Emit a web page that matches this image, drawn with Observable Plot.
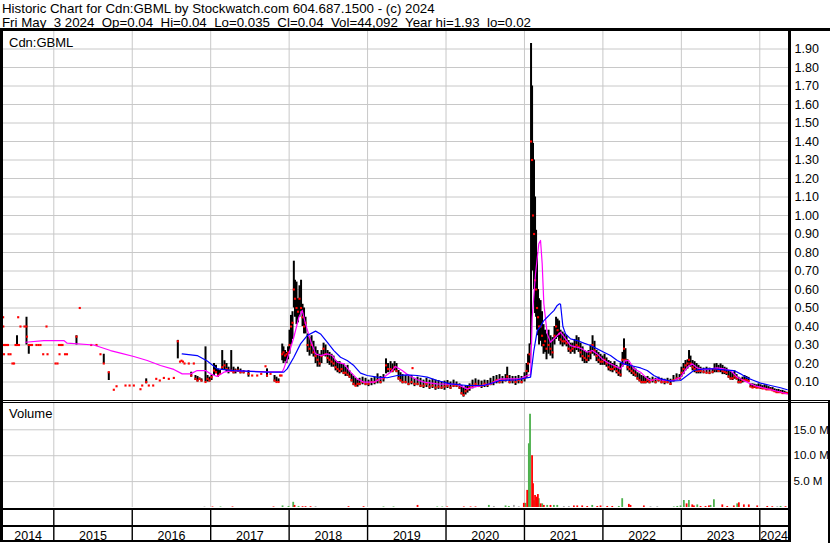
<!DOCTYPE html>
<html><head><meta charset="utf-8">
<script src="https://cdn.jsdelivr.net/npm/d3@7"></script>
<script src="https://cdn.jsdelivr.net/npm/@observablehq/plot@0.6"></script>
<style>
body{margin:0;background:#fff;}
#c{position:relative;width:830px;height:543px;overflow:hidden;background:#fff;color:#000;font-family:"Liberation Sans",Arial,sans-serif;}
#c svg{position:absolute;left:0;}
.t{position:absolute;white-space:pre;line-height:14px;}
.b{position:absolute;background:#000;}
</style></head><body><div id="c"></div>
<script>
// ---------- header texts ----------
const headerLine1 = "Historic Chart for Cdn:GBML by Stockwatch.com 604.687.1500 - (c) 2024";
const headerLine2 = "Fri May  3 2024  Op=0.04  Hi=0.04  Lo=0.035  Cl=0.04  Vol=44,092  Year hi=1.93  lo=0.02";
const priceLabel = "Cdn:GBML";
const volumeLabel = "Volume";

// ---------- axis ticks ----------
const years = [2014,2015,2016,2017,2018,2019,2020,2021,2022,2023,2024];
const priceTicks = [0.1,0.2,0.3,0.4,0.5,0.6,0.7,0.8,0.9,1.0,1.1,1.2,1.3,1.4,1.5,1.6,1.7,1.8,1.9];
const volTicks = [5,10,15]; // millions

// ---------- daily bars (decimal year, high, low, close) ----------
const barDates = [
2014.354,2014.356,2014.361,2014.365,2014.378,2014.397,2014.416,2014.423,2014.448,2014.473,
2014.493,2014.512,2014.531,2014.546,2014.556,2014.575,2014.626,2014.652,2014.658,2014.681,
2014.703,2014.722,2014.779,2014.805,2014.830,2014.865,2014.907,2014.920,2015.022,2015.047,
2015.066,2015.073,2015.092,2015.111,2015.143,2015.168,2015.289,2015.331,2015.477,2015.544,
2015.595,2015.637,2015.701,2015.765,2015.800,2015.914,2015.966,2016.020,2016.105,2016.127,
2016.178,2016.211,2016.267,2016.306,2016.351,2016.403,2016.466,2016.530,2016.581,2016.609,
2016.628,2016.647,2016.666,2016.721,2016.752,2016.785,2016.806,2016.832,2016.857,2016.883,
2016.934,2016.960,2016.985,2017.011,2017.042,2017.068,2017.093,2017.119,2017.147,2017.176,
2017.202,2017.227,2017.262,2017.291,2017.316,2017.348,2017.380,2017.419,2017.482,2017.529,
2017.593,2017.644,2017.699,2017.718,2017.763,2017.814,2017.839,2017.865,2017.884,2017.903,
2017.912,2017.928,2017.948,2017.967,2017.986,2018.005,2018.024,2018.043,2018.060,2018.075,
2018.094,2018.113,2018.132,2018.152,2018.171,2018.190,2018.209,2018.235,2018.260,2018.286,
2018.311,2018.337,2018.362,2018.388,2018.413,2018.439,2018.464,2018.490,2018.515,2018.541,
2018.566,2018.592,2018.617,2018.643,2018.668,2018.694,2018.719,2018.745,2018.770,2018.796,
2018.821,2018.847,2018.872,2018.898,2018.936,2018.974,2019.012,2019.050,2019.089,2019.127,
2019.165,2019.203,2019.235,2019.261,2019.293,2019.318,2019.344,2019.369,2019.395,2019.420,
2019.446,2019.484,2019.522,2019.560,2019.573,2019.598,2019.637,2019.675,2019.713,2019.751,
2019.790,2019.828,2019.866,2019.904,2019.943,2019.981,2020.019,2020.057,2020.096,2020.134,
2020.172,2020.198,2020.223,2020.249,2020.274,2020.300,2020.338,2020.376,2020.414,2020.453,
2020.491,2020.529,2020.567,2020.605,2020.644,2020.682,2020.720,2020.759,2020.780,2020.810,
2020.848,2020.886,2020.924,2020.963,2021.001,2021.027,2021.046,2021.065,2021.084,2021.097,
2021.109,2021.122,2021.135,2021.148,2021.160,2021.173,2021.186,2021.205,2021.224,2021.243,
2021.262,2021.281,2021.307,2021.332,2021.358,2021.383,2021.403,2021.422,2021.441,2021.460,
2021.486,2021.511,2021.537,2021.562,2021.588,2021.613,2021.639,2021.664,2021.690,2021.715,
2021.741,2021.766,2021.792,2021.817,2021.842,2021.868,2021.893,2021.919,2021.944,2021.970,
2021.995,2022.021,2022.046,2022.072,2022.097,2022.123,2022.148,2022.174,2022.199,2022.225,
2022.250,2022.269,2022.288,2022.314,2022.339,2022.365,2022.390,2022.416,2022.441,2022.467,
2022.492,2022.518,2022.543,2022.569,2022.594,2022.633,2022.671,2022.709,2022.747,2022.786,
2022.824,2022.862,2022.900,2022.939,2022.977,2023.002,2023.028,2023.053,2023.079,2023.098,
2023.117,2023.143,2023.168,2023.194,2023.219,2023.245,2023.283,2023.321,2023.359,2023.398,
2023.423,2023.449,2023.474,2023.500,2023.525,2023.551,2023.576,2023.602,2023.627,2023.653,
2023.678,2023.704,2023.729,2023.755,2023.780,2023.806,2023.831,2023.857,2023.882,2023.908,
2023.933,2023.959,2023.984,2024.010,2024.035,2024.061,2024.086,2024.112,2024.137,2024.163,
2024.188,2024.214,2024.239,2024.265,2024.290,2024.316,2024.341,2024.360];
const barHigh = [
.45,.40,.30,.25,.30,.30,.30,.25,.25,.20,
.20,.30,.35,.45,.30,.40,.40,.45,.345,.30,
.30,.30,.30,.30,.30,.25,.40,.25,.20,.20,
.30,.25,.30,.30,.25,.25,.35,.50,.30,.30,
.25,.25,.153,.058,.077,.081,.081,.081,.061,.081,
.117,.081,.081,.117,.108,.122,.117,.122,.325,.21,
.215,.21,.20,.20,.153,.20,.135,.13,.122,.117,
.29,.135,.126,.135,.20,.19,.17,.162,.27,.215,
.20,.18,.27,.18,.17,.18,.17,.162,.162,.135,
.135,.144,.185,.171,.144,.135,.126,.117,.135,.135,
.305,.29,.27,.26,.29,.38,.46,.48,.753,.65,
.64,.55,.62,.65,.52,.50,.45,.36,.34,.35,
.32,.29,.27,.25,.27,.31,.30,.27,.26,.25,
.24,.216,.21,.21,.20,.198,.18,.19,.16,.144,
.13,.12,.11,.12,.126,.12,.11,.12,.126,.144,
.13,.14,.225,.20,.21,.198,.21,.20,.162,.15,
.14,.135,.13,.135,.175,.12,.126,.12,.11,.12,
.11,.115,.11,.108,.10,.105,.108,.10,.11,.10,
.09,.081,.07,.08,.08,.09,.11,.117,.11,.105,
.11,.108,.12,.13,.135,.14,.13,.14,.18,.135,
.13,.13,.135,.13,.15,.20,.25,.306,1.93,1.70,
1.39,1.30,1.10,.92,.80,.60,.55,.54,.48,.41,
.38,.36,.38,.35,.34,.40,.45,.44,.43,.38,
.37,.36,.35,.324,.31,.31,.33,.35,.34,.31,
.29,.27,.26,.27,.30,.35,.32,.27,.26,.25,
.24,.25,.23,.216,.21,.20,.21,.19,.18,.20,
.26,.333,.28,.22,.20,.19,.18,.17,.15,.144,
.135,.13,.126,.13,.12,.126,.12,.126,.12,.115,
.12,.115,.135,.144,.14,.18,.20,.216,.22,.27,
.24,.216,.21,.20,.19,.18,.175,.18,.175,.17,
.198,.20,.19,.198,.19,.18,.175,.162,.155,.15,
.16,.14,.126,.12,.126,.135,.13,.125,.09,.09,
.088,.085,.09,.085,.08,.085,.08,.075,.07,.07,
.063,.06,.06,.055,.055,.05,.045,.04];
const barLow = [
.45,.40,.30,.25,.30,.30,.30,.25,.25,.20,
.20,.30,.30,.45,.30,.40,.40,.30,.345,.25,
.30,.30,.30,.30,.30,.25,.40,.25,.20,.20,
.30,.25,.30,.30,.25,.25,.30,.50,.30,.30,
.25,.20,.108,.058,.077,.081,.081,.081,.061,.081,
.09,.081,.081,.117,.108,.122,.117,.122,.225,.21,
.215,.21,.20,.20,.126,.20,.108,.10,.108,.10,
.10,.10,.10,.108,.135,.144,.126,.135,.162,.162,
.153,.144,.153,.144,.144,.153,.144,.144,.126,.135,
.135,.144,.185,.126,.144,.10,.10,.10,.135,.135,
.215,.20,.21,.20,.22,.25,.30,.33,.50,.45,
.41,.42,.45,.48,.40,.36,.36,.26,.24,.25,
.235,.20,.18,.18,.20,.24,.235,.20,.19,.18,
.18,.16,.15,.144,.15,.14,.13,.13,.12,.10,
.08,.075,.072,.08,.085,.08,.075,.08,.085,.09,
.09,.10,.144,.15,.15,.15,.16,.15,.11,.10,
.09,.09,.08,.085,.175,.075,.08,.07,.065,.07,
.06,.065,.055,.06,.06,.055,.065,.06,.07,.07,
.06,.03,.018,.03,.04,.05,.063,.07,.07,.065,
.07,.07,.08,.08,.09,.09,.09,.10,.11,.09,
.09,.081,.09,.09,.10,.12,.15,.20,.30,1.00,
.70,.60,.47,.45,.38,.35,.30,.32,.29,.25,
.26,.22,.25,.24,.225,.30,.33,.34,.32,.30,
.29,.30,.29,.26,.25,.26,.25,.27,.26,.23,
.21,.20,.20,.21,.22,.25,.24,.21,.20,.19,
.19,.19,.18,.16,.155,.15,.16,.144,.13,.126,
.18,.22,.19,.16,.15,.14,.13,.126,.11,.10,
.09,.09,.09,.095,.09,.095,.09,.10,.09,.085,
.09,.081,.10,.108,.11,.126,.14,.16,.17,.19,
.18,.16,.15,.144,.144,.144,.144,.144,.14,.144,
.15,.15,.15,.15,.14,.14,.135,.12,.11,.108,
.115,.11,.09,.09,.095,.10,.10,.099,.07,.065,
.065,.063,.065,.06,.06,.06,.055,.055,.054,.05,
.045,.04,.04,.04,.036,.035,.035,.035];
const barClose = [
.45,.40,.30,.25,.30,.30,.30,.25,.25,.20,
.20,.30,.30,.45,.30,.40,.40,.40,.345,.30,
.30,.30,.30,.30,.30,.25,.40,.25,.20,.20,
.30,.25,.30,.30,.25,.25,.345,.50,.30,.30,
.25,.20,.153,.058,.077,.081,.081,.081,.061,.081,
.10,.081,.081,.117,.108,.122,.117,.122,.32,.21,
.215,.21,.20,.20,.135,.20,.117,.108,.117,.108,
.10,.117,.108,.126,.162,.153,.135,.144,.18,.19,
.17,.162,.162,.153,.162,.162,.153,.153,.144,.135,
.135,.144,.185,.135,.144,.108,.10,.10,.135,.135,
.25,.26,.243,.25,.26,.30,.40,.42,.60,.55,
.50,.48,.55,.50,.45,.40,.42,.30,.28,.30,
.26,.24,.22,.20,.24,.28,.25,.23,.22,.21,
.20,.18,.17,.16,.17,.15,.15,.14,.13,.11,
.09,.08,.09,.09,.10,.09,.09,.10,.10,.11,
.10,.12,.19,.17,.17,.16,.18,.16,.12,.11,
.10,.10,.09,.10,.175,.09,.09,.08,.08,.09,
.075,.08,.07,.075,.07,.075,.08,.07,.08,.08,
.07,.04,.03,.05,.06,.07,.08,.09,.08,.08,
.09,.085,.09,.10,.11,.10,.11,.11,.13,.10,
.11,.10,.11,.10,.12,.16,.20,.25,1.40,1.30,
1.00,.90,.65,.60,.50,.45,.40,.40,.35,.30,
.32,.28,.30,.28,.26,.35,.40,.38,.36,.33,
.32,.32,.31,.28,.27,.28,.29,.30,.29,.26,
.24,.23,.22,.24,.26,.30,.27,.24,.22,.21,
.21,.22,.20,.18,.17,.17,.18,.16,.15,.14,
.22,.28,.22,.18,.17,.16,.15,.14,.12,.11,
.10,.10,.10,.11,.10,.11,.10,.11,.10,.10,
.10,.09,.11,.12,.12,.15,.17,.19,.20,.22,
.20,.18,.17,.16,.16,.16,.155,.15,.15,.155,
.17,.17,.16,.17,.16,.155,.15,.13,.12,.12,
.13,.12,.10,.10,.11,.11,.11,.105,.075,.07,
.075,.07,.07,.07,.065,.065,.06,.06,.06,.055,
.05,.045,.045,.045,.04,.04,.04,.04];

// ---------- moving averages ----------
const maShortDates = [2014.639,2014.873,2015.128,2015.171,2015.510,2015.723,2015.850,2016.020,2016.191,2016.360,
2016.530,2016.637,2016.743,2016.828,2016.934,2016.998,2017.083,2017.168,2017.295,2017.508,
2017.721,2017.912,2017.932,2017.996,2018.060,2018.124,2018.167,2018.209,2018.273,2018.337,
2018.400,2018.485,2018.549,2018.613,2018.698,2018.783,2018.868,2018.953,2019.080,2019.207,
2019.293,2019.356,2019.441,2019.526,2019.633,2019.717,2019.888,2020.143,2020.270,2020.398,
2020.567,2020.695,2020.950,2021.035,2021.078,2021.099,2021.141,2021.183,2021.205,2021.226,
2021.247,2021.290,2021.332,2021.396,2021.460,2021.524,2021.588,2021.673,2021.736,2021.800,
2021.864,2021.928,2021.991,2022.055,2022.140,2022.225,2022.288,2022.331,2022.395,2022.480,
2022.544,2022.608,2022.693,2022.777,2022.905,2022.990,2023.075,2023.139,2023.203,2023.287,
2023.372,2023.457,2023.542,2023.627,2023.712,2023.797,2023.882,2023.967,2024.095,2024.223,2024.350];
const maShortValues = [.315,.324,.324,.31,.30,.27,.256,.238,.216,.189,
.168,.144,.144,.162,.162,.144,.13,.153,.162,.158,
.155,.155,.171,.252,.342,.45,.487,.414,.324,.252,
.243,.252,.243,.207,.198,.153,.117,.099,.099,.126,
.153,.184,.162,.135,.112,.099,.09,.087,.063,.076,
.09,.117,.117,.135,.14,.45,.685,.847,.865,.739,
.523,.36,.315,.342,.369,.333,.297,.288,.279,.261,
.27,.252,.225,.207,.189,.171,.216,.216,.171,.153,
.126,.108,.117,.108,.108,.126,.18,.198,.176,.166,
.171,.176,.171,.162,.126,.108,.09,.076,.063,.05,.036];
const maLongDates = [2016.637,2016.828,2016.956,2017.083,2017.295,2017.508,2017.721,2017.932,2017.975,2018.060,
2018.145,2018.230,2018.337,2018.400,2018.485,2018.570,2018.655,2018.740,2018.825,2018.910,
2018.995,2019.123,2019.250,2019.378,2019.505,2019.633,2019.760,2019.888,2020.057,2020.270,
2020.482,2020.695,2020.908,2021.078,2021.120,2021.163,2021.205,2021.247,2021.290,2021.332,
2021.375,2021.418,2021.447,2021.460,2021.490,2021.524,2021.588,2021.673,2021.757,2021.842,
2021.928,2022.012,2022.097,2022.183,2022.267,2022.352,2022.480,2022.565,2022.650,2022.735,
2022.862,2022.990,2023.075,2023.159,2023.287,2023.415,2023.542,2023.670,2023.755,2023.840,
2023.924,2024.010,2024.137,2024.265,2024.350];
const maLongValues = [.252,.243,.213,.171,.162,.157,.153,.153,.171,.234,
.306,.351,.375,.36,.315,.27,.234,.216,.189,.148,
.135,.126,.123,.135,.139,.135,.126,.108,.09,.081,
.081,.108,.112,.126,.27,.378,.40,.432,.45,.468,
.486,.514,.523,.52,.40,.36,.333,.324,.31,.297,
.279,.261,.243,.216,.198,.189,.176,.162,.135,.117,
.105,.108,.135,.162,.171,.171,.166,.162,.144,.122,
.108,.094,.081,.069,.058];

// ---------- volume (millions), direction u=up d=down f=unchanged ----------
const volDates = [2016.921,2017.023,2017.125,2017.278,2017.801,2017.916,2017.992,2018.052,2018.069,2018.120,
2018.171,2018.209,2018.273,2018.337,2018.757,2018.949,2019.203,2019.331,2019.637,2019.888,
2019.952,2020.015,2020.227,2020.313,2020.376,2020.546,2020.610,2020.759,2020.801,2020.865,
2020.928,2020.992,2021.014,2021.035,2021.056,2021.071,2021.097,2021.109,2021.122,2021.135,
2021.154,2021.171,2021.183,2021.205,2021.226,2021.247,2021.290,2021.332,2021.375,2021.418,
2021.502,2021.566,2021.630,2021.673,2021.736,2021.800,2021.864,2021.928,2021.970,2022.055,
2022.119,2022.203,2022.246,2022.331,2022.352,2022.522,2022.607,2022.693,2022.904,2022.948,
2022.990,2023.032,2023.067,2023.096,2023.139,2023.160,2023.203,2023.245,2023.308,2023.351,
2023.372,2023.415,2023.522,2023.585,2023.669,2023.712,2023.733,2023.797,2023.860,2023.967,
2024.095,2024.159,2024.223,2024.265,2024.328];
const volValues = [.1,.1,.1,.1,.1,.3,.2,1.0,.4,.2,
.15,.15,.15,.15,.15,.15,.1,.1,.4,.1,
.1,.1,.1,.1,.1,.4,.2,.3,.2,.4,
.15,.8,.8,3.3,12.3,18.0,10.0,4.6,1.3,2.3,
2.0,2.5,1.7,.7,.7,.4,.4,.4,.4,.4,
.2,.2,.3,.3,.3,.2,.4,.2,.3,.2,
.2,.2,1.7,.6,.4,.3,.15,.15,.1,.2,
.3,1.35,.7,1.35,.5,.3,.5,.2,.2,.3,
.4,1.5,.5,.2,.3,.7,.9,.5,.5,.3,
.2,.15,.15,.2,.15];
const volDir = ["f","d","u","d","d","u","u","u","d","u",
"d","d","d","f","d","d","u","u","d","u",
"u","d","d","d","d","u","f","u","u","f",
"f","d","u","d","u","u","d","d","u","d",
"d","d","u","d","u","d","u","d","u","u",
"f","f","d","d","d","d","u","d","d","d",
"d","u","u","d","d","d","f","f","u","u",
"u","u","d","u","d","d","u","d","d","d",
"u","u","d","d","d","u","d","d","d","d",
"d","d","f","u","d"];

// ---------- build ----------
const X0 = 2014.346, X1 = 2024.366;
const GRID = "#c8c8c8";
const FONT = '"Liberation Sans", Arial, sans-serif';
const bars = barDates.map((d, i) => ({date: d, hi: barHigh[i], lo: barLow[i], cl: barClose[i]}));
const maS = maShortDates.map((d, i) => ({date: d, v: maShortValues[i]}));
const maL = maLongDates.map((d, i) => ({date: d, v: maLongValues[i]}));
const vol = volDates.map((d, i) => ({date: d, v: volValues[i], dir: volDir[i]}));
const yearStarts = years.slice(1);
const yearCells = years.map(y => ({label: String(y), mid: (Math.max(y, X0) + Math.min(y + 1, X1)) / 2}));
const style = {background: "transparent", fontFamily: FONT, fontSize: "12.5px", color: "#000", overflow: "visible"};

const pricePlot = Plot.plot({
  width: 830, height: 371, marginLeft: 2, marginRight: 42, marginTop: 0, marginBottom: 1,
  x: {domain: [X0, X1], axis: null},
  y: {domain: [0, 2]},
  style,
  marks: [
    Plot.ruleY(priceTicks, {stroke: GRID, strokeWidth: 1}),
    Plot.ruleX(yearStarts, {stroke: GRID, strokeWidth: 1}),
    Plot.ruleX(bars, {x: "date", y1: "lo", y2: "hi", stroke: "#000", strokeWidth: 2}),
    Plot.dot(bars, {x: "date", y: "cl", symbol: "square", r: 1.2, fill: "#ff0000"}),
    Plot.line(maS, {x: "date", y: "v", stroke: "#ff00ff", strokeWidth: 1.2}),
    Plot.line(maL, {x: "date", y: "v", stroke: "#0000ff", strokeWidth: 1.2}),
    Plot.axisY(priceTicks, {anchor: "right", tickSize: 0, tickPadding: 6, tickFormat: d => d.toFixed(2), fill: "#000", label: null})
  ]
});

const volPlot = Plot.plot({
  width: 830, height: 106, marginLeft: 2, marginRight: 42, marginTop: 0, marginBottom: 2,
  x: {domain: [X0, X1], axis: null},
  y: {domain: [0, 20.08]},
  style,
  marks: [
    Plot.ruleY(volTicks, {stroke: GRID, strokeWidth: 1}),
    Plot.ruleX(yearStarts, {stroke: GRID, strokeWidth: 1}),
    Plot.ruleX(vol.filter(d => d.dir === "f"), {x: "date", y1: 0, y2: "v", stroke: "#a8a8a8", strokeWidth: 1.8}),
    Plot.ruleX(vol.filter(d => d.dir === "u"), {x: "date", y1: 0, y2: "v", stroke: "#4cb04c", strokeWidth: 1.8}),
    Plot.ruleX(vol.filter(d => d.dir === "d"), {x: "date", y1: 0, y2: "v", stroke: "#ff0000", strokeWidth: 1.8}),
    Plot.axisY(volTicks, {anchor: "right", tickSize: 0, tickPadding: 5, tickFormat: d => d.toFixed(1) + " M", fill: "#000", fontSize: 11.6, label: null})
  ]
});

const axisPlot = Plot.plot({
  width: 830, height: 32, marginLeft: 2, marginRight: 42, marginTop: 0, marginBottom: 0,
  x: {domain: [X0, X1], axis: null},
  style,
  marks: [
    Plot.ruleX(yearStarts, {stroke: "#000", strokeWidth: 1.4}),
    Plot.text(yearCells, {x: "mid", text: "label", frameAnchor: "bottom", lineAnchor: "bottom", dy: -1.8, fontSize: 12.5, fill: "#000"})
  ]
});

const c = document.getElementById("c");
pricePlot.style.top = "30px"; c.appendChild(pricePlot);
volPlot.style.top = "403px"; c.appendChild(volPlot);
axisPlot.style.top = "509px"; c.appendChild(axisPlot);

function box(l, t, w, h) { const d = document.createElement("div"); d.className = "b"; Object.assign(d.style, {left: l + "px", top: t + "px", width: w + "px", height: h + "px"}); c.appendChild(d); }
function txt(s, l, t, fs) { const d = document.createElement("div"); d.className = "t"; d.textContent = s; Object.assign(d.style, {left: l + "px", top: t + "px", fontSize: fs + "px"}); c.appendChild(d); }

// frame lines
box(0, 28.3, 830, 2.4);        // under header
box(0, 400, 830, 1.4);         // double separator
box(0, 402.3, 830, 1.2);
box(0, 508.3, 790.5, 1.8);     // bottom of volume
box(0, 525, 790.5, 1.8);       // between axis rows
box(0, 540, 790.5, 1.8);       // bottom
box(0, 29, 2.6, 513);          // left border
box(788.2, 29, 2.5, 513);      // right border of plotting area
box(828.3, 400, 1.7, 143);     // outer right edge of lower panels

txt(headerLine1, 2, 1.5, 13.3);
txt(headerLine2, 2, 15.5, 13.3);
txt(priceLabel, 9, 36, 13);
txt(volumeLabel, 9, 407.4, 13);
</script></body></html>
